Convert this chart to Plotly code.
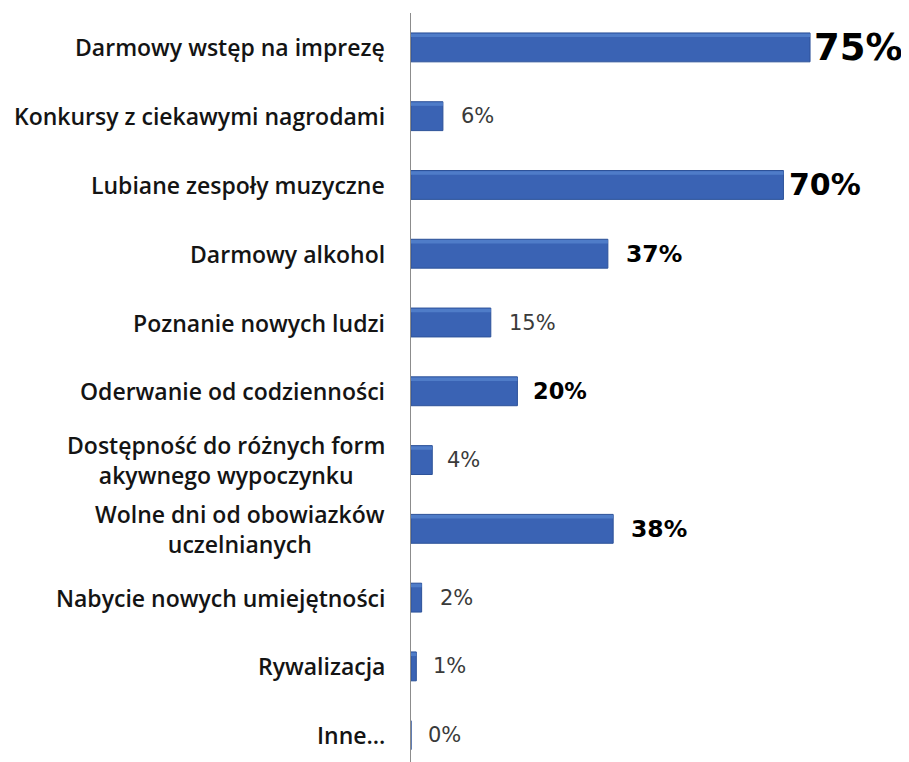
import plotly.graph_objects as go

categories = [
    "Darmowy wstęp na imprezę",
    "Konkursy z ciekawymi nagrodami",
    "Lubiane zespoły muzyczne",
    "Darmowy alkohol",
    "Poznanie nowych ludzi",
    "Oderwanie od codzienności",
    "Dostępność do różnych form<br>akywnego wypoczynku",
    "Wolne dni od obowiazków<br>uczelnianych",
    "Nabycie nowych umiejętności",
    "Rywalizacja",
    "Inne...",
]
values = [75, 6, 70, 37, 15, 20, 4, 38, 2, 1, 0]

# label styles (presentation only)
label_size = [37, 21, 30, 23.5, 21, 22.5, 21, 23.5, 21, 21, 21]
label_bold = [True, False, True, True, False, True, False, True, False, False, False]
label_shift = [2, 16, 4, 16, 16, 14, 13, 16, 16, 15, 15]

fig = go.Figure()
fig.add_trace(go.Bar(
    x=values, y=categories, orientation="h",
    marker=dict(color="#3a63b4", line=dict(color="#2d5299", width=1)),
    width=0.42, offset=-0.21,
    hoverinfo="skip",
))
# subtle top highlight of the same bars
fig.add_trace(go.Bar(
    x=values, y=categories, orientation="h",
    marker=dict(color="#4f7cc8", line=dict(width=0)),
    width=0.05, offset=-0.2,
    hoverinfo="skip",
))

ann = []
for i, (c, v) in enumerate(zip(categories, values)):
    ann.append(dict(
        x=v, y=c, xref="x", yref="y", text=f"{v}%", showarrow=False,
        xanchor="left", yanchor="middle", xshift=label_shift[i],
        font=dict(family="DejaVu Sans", size=label_size[i],
                  color="#000000" if label_bold[i] else "#3a3a3a",
                  weight=700 if label_bold[i] else 400),
    ))
    ann.append(dict(
        x=0, y=c, xref="x", yref="y", text=c, showarrow=False,
        xanchor="right", yanchor="middle", xshift=-24, align="center",
        font=dict(family="Open Sans", size=23, color="#141414", weight=600),
    ))

fig.update_layout(
    width=901, height=754,
    margin=dict(l=403, r=0, t=5, b=0),
    plot_bgcolor="white", paper_bgcolor="white",
    showlegend=False,
    barmode="overlay",
    annotations=ann,
    xaxis=dict(range=[0, 93.6], showgrid=False, zeroline=False,
               showticklabels=False, showline=False, ticks=""),
    yaxis=dict(type="category", range=[10.39, -0.5], showgrid=False,
               zeroline=False, showticklabels=False, ticks="",
               showline=True, linecolor="#8c8c8c", linewidth=1),
)

fig.write_html("out.html")
